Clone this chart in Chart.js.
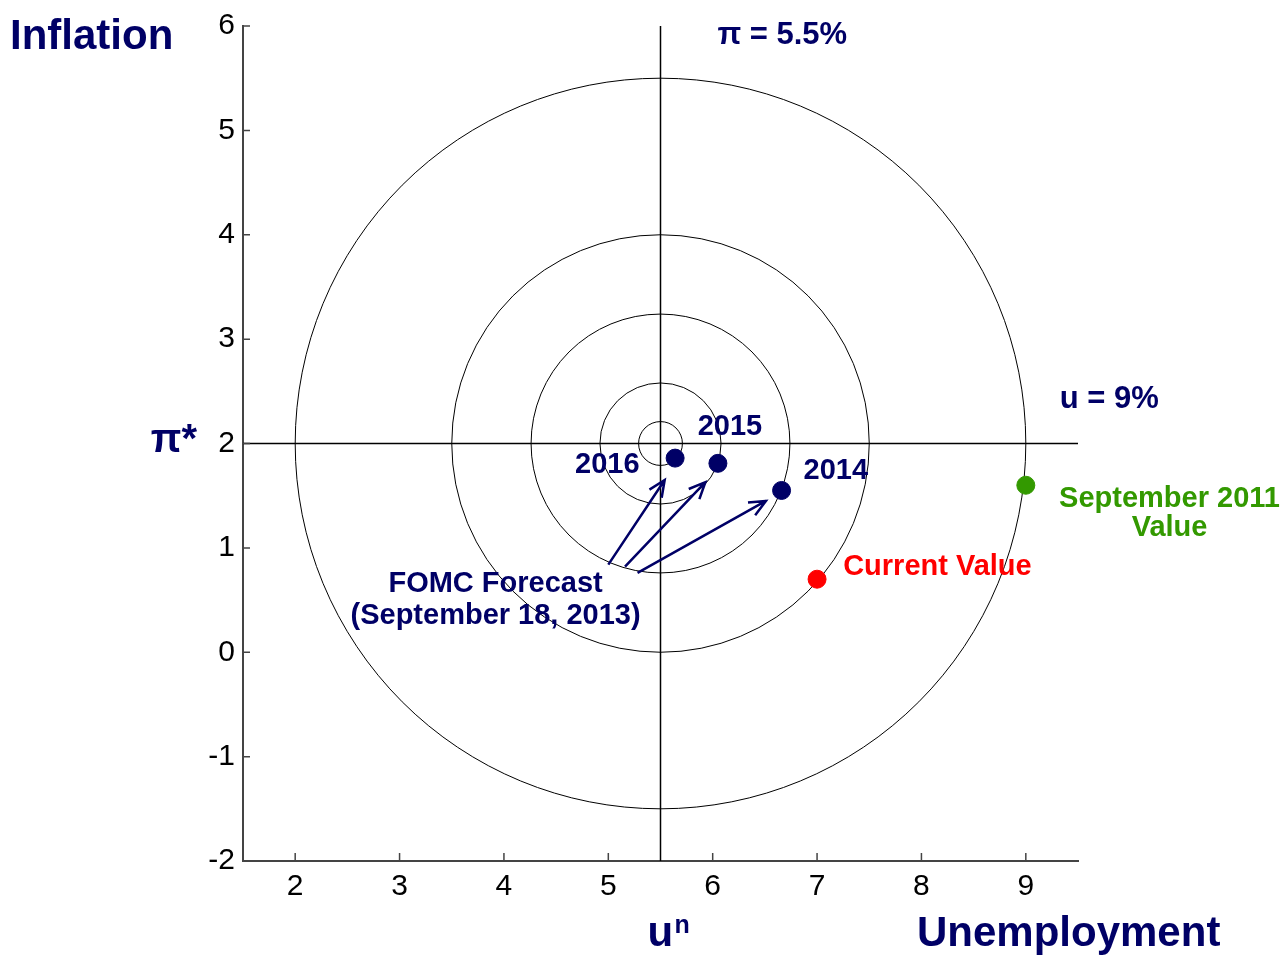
<!DOCTYPE html>
<html>
<head>
<meta charset="utf-8">
<script src="https://cdn.jsdelivr.net/npm/chart.js@4"></script>
<style>
  body { margin: 0; background: #fff; }
  #wrap { width: 1282px; height: 956px; }
</style>
</head>
<body>
<div id="wrap"><canvas id="targetChart"></canvas></div>
<script>
// Centre of the target: natural rate u^n and inflation target pi*
const targetU = 5.5;
const targetPi = 2;

// FOMC forecast (September 18, 2013)
const forecastYears = ['2014', '2015', '2016'];
const forecastU = [6.66, 6.05, 5.64];
const forecastPi = [1.55, 1.81, 1.86];

const currentU = [7.0];
const currentPi = [0.70];

const sept2011U = [9.0];
const sept2011Pi = [1.60];

// distance rings around the target
const ringRadii = [0.21, 0.58, 1.24, 2.0, 3.5];

const xTicks = [2, 3, 4, 5, 6, 7, 8, 9];
const yTicks = [-2, -1, 0, 1, 2, 3, 4, 5, 6];

const NAVY = '#000066';
const RED = '#ff0000';
const GREEN = '#339900';
const FONT = '"Liberation Sans", Arial, Helvetica, sans-serif';

// arrows from the FOMC label to each forecast point (tail -> head)
const arrowTails = [[5.00, 0.84], [5.16, 0.82], [5.28, 0.76]];
const arrowHeads = [[5.54, 1.65], [5.93, 1.63], [6.51, 1.45]];

// text notes placed in data space
const notes = [
  { text: '2016', x: 4.99, y: 1.79, color: NAVY },
  { text: '2015', x: 6.165, y: 2.16, color: NAVY },
  { text: '2014', x: 7.18, y: 1.74, color: NAVY },
  { text: 'Current Value', x: 7.25, y: 0.82, color: RED, align: 'left' },
  { text: 'September 2011', x: 10.377, y: 1.47, color: GREEN },
  { text: 'Value', x: 10.377, y: 1.19, color: GREEN },
  { text: 'FOMC Forecast', x: 3.92, y: 0.65, color: NAVY },
  { text: '(September 18, 2013)', x: 3.92, y: 0.35, color: NAVY },
  { text: '\u03c0 = 5.5%', x: 6.667, y: 5.91, color: NAVY, size: 31 },
  { text: 'u = 9%', x: 9.80, y: 2.42, color: NAVY, size: 31 }
];

const toPoints = (xs, ys) => xs.map((x, i) => ({ x: x, y: ys[i] }));

const targetPlugin = {
  id: 'targetRings',
  beforeDatasetsDraw(chart) {
    const { ctx, chartArea, scales: { x, y } } = chart;
    const cx = x.getPixelForValue(targetU);
    const cy = y.getPixelForValue(targetPi);
    ctx.save();

    // rings
    ctx.strokeStyle = '#000';
    ctx.lineWidth = 1;
    ringRadii.forEach(r => {
      const rx = Math.abs(x.getPixelForValue(targetU + r) - cx);
      const ry = Math.abs(y.getPixelForValue(targetPi + r) - cy);
      ctx.beginPath();
      ctx.ellipse(cx, cy, rx, ry, 0, 0, Math.PI * 2);
      ctx.stroke();
    });

    // cross hairs through the target
    ctx.lineWidth = 1.5;
    ctx.beginPath();
    ctx.moveTo(cx, chartArea.top);
    ctx.lineTo(cx, chartArea.bottom);
    ctx.moveTo(chartArea.left, cy);
    ctx.lineTo(chartArea.right, cy);
    ctx.stroke();

    // arrows
    ctx.strokeStyle = NAVY;
    ctx.lineWidth = 2.5;
    arrowTails.forEach((t, i) => {
      const x0 = x.getPixelForValue(t[0]), y0 = y.getPixelForValue(t[1]);
      const x1 = x.getPixelForValue(arrowHeads[i][0]), y1 = y.getPixelForValue(arrowHeads[i][1]);
      const ang = Math.atan2(y1 - y0, x1 - x0);
      const len = 18, spread = 0.42;
      ctx.beginPath();
      ctx.moveTo(x0, y0);
      ctx.lineTo(x1, y1);
      ctx.moveTo(x1 - len * Math.cos(ang - spread), y1 - len * Math.sin(ang - spread));
      ctx.lineTo(x1, y1);
      ctx.lineTo(x1 - len * Math.cos(ang + spread), y1 - len * Math.sin(ang + spread));
      ctx.stroke();
    });
    ctx.restore();
  },
  afterDraw(chart) {
    const { ctx, chartArea, scales: { x, y } } = chart;
    ctx.save();

    // inward tick marks
    ctx.strokeStyle = '#444';
    ctx.lineWidth = 1.5;
    ctx.beginPath();
    x.ticks.forEach(t => {
      const px = x.getPixelForValue(t.value);
      ctx.moveTo(px, chartArea.bottom);
      ctx.lineTo(px, chartArea.bottom - 8);
    });
    y.ticks.forEach(t => {
      const py = y.getPixelForValue(t.value);
      ctx.moveTo(chartArea.left, py);
      ctx.lineTo(chartArea.left + 7, py);
    });
    ctx.stroke();

    // notes
    ctx.textBaseline = 'middle';
    notes.forEach(n => {
      ctx.font = 'bold ' + (n.size || 29) + 'px ' + FONT;
      ctx.fillStyle = n.color;
      ctx.textAlign = n.align || 'center';
      ctx.fillText(n.text, x.getPixelForValue(n.x), y.getPixelForValue(n.y));
    });

    // axis names
    ctx.fillStyle = NAVY;
    ctx.font = 'bold 42px ' + FONT;
    ctx.textAlign = 'left';
    ctx.fillText('Inflation', 10, 37);
    ctx.textBaseline = 'alphabetic';
    ctx.fillText('Unemployment', 917, 946);

    const ux = x.getPixelForValue(targetU);
    ctx.fillText('u', ux - 13, 946);
    ctx.font = 'bold 25px ' + FONT;
    ctx.fillText('n', ux + 14, 933);

    ctx.font = 'bold 40px ' + FONT;
    ctx.textAlign = 'right';
    ctx.textBaseline = 'middle';
    ctx.fillText('\u03c0*', 197, y.getPixelForValue(targetPi) - 3);
    ctx.restore();
  }
};

new Chart(document.getElementById('targetChart'), {
  type: 'scatter',
  data: {
    datasets: [
      {
        label: 'FOMC Forecast',
        data: toPoints(forecastU, forecastPi),
        backgroundColor: NAVY,
        borderColor: NAVY,
        pointRadius: 9
      },
      {
        label: 'Current Value',
        data: toPoints(currentU, currentPi),
        backgroundColor: RED,
        borderColor: RED,
        pointRadius: 9
      },
      {
        label: 'September 2011 Value',
        data: toPoints(sept2011U, sept2011Pi),
        backgroundColor: GREEN,
        borderColor: GREEN,
        pointRadius: 9
      }
    ]
  },
  options: {
    responsive: true,
    maintainAspectRatio: false,
    animation: false,
    layout: { padding: { left: 0, right: 204, top: 24, bottom: 0 } },
    plugins: {
      legend: { display: false },
      tooltip: { enabled: false }
    },
    scales: {
      x: {
        type: 'linear',
        min: 1.5,
        max: 9.5,
        afterBuildTicks: s => { s.ticks = xTicks.map(v => ({ value: v })); },
        afterFit: s => { s.height = 95; },
        grid: { display: false, drawTicks: false },
        border: { display: true, color: '#444', width: 2 },
        ticks: { color: '#000', padding: 8, font: { family: FONT, size: 30 } }
      },
      y: {
        type: 'linear',
        min: -2,
        max: 6,
        afterBuildTicks: s => { s.ticks = yTicks.map(v => ({ value: v })); },
        afterFit: s => { s.width = 243; },
        grid: { display: false, drawTicks: false },
        border: { display: true, color: '#444', width: 2 },
        ticks: { color: '#000', padding: 8, font: { family: FONT, size: 30 } }
      }
    }
  },
  plugins: [targetPlugin]
});
</script>
</body>
</html>
